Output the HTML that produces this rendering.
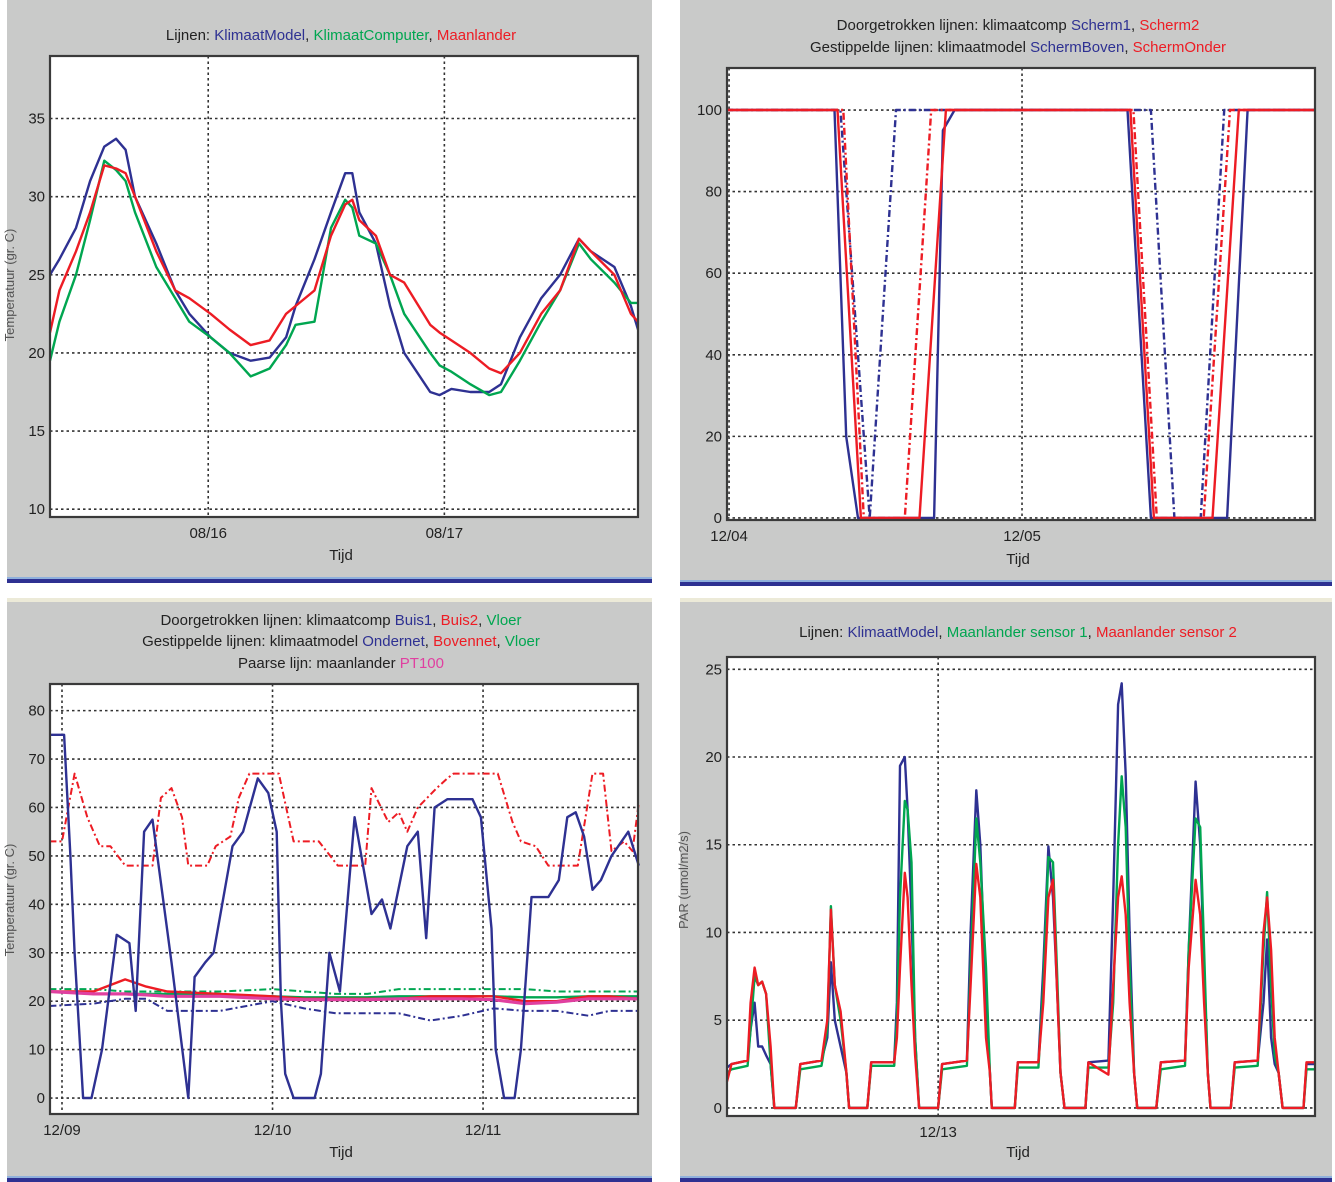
<!DOCTYPE html>
<html><head><meta charset="utf-8"><style>
html,body{margin:0;padding:0;background:#fff;}
svg{display:block;font-family:"Liberation Sans",sans-serif;}
</style></head><body>
<svg id="root" width="1335" height="1182" viewBox="0 0 1335 1182" xmlns="http://www.w3.org/2000/svg">
<rect x="0" y="0" width="1335" height="1182" fill="#fff"/>
<g>
<rect x="7" y="0" width="645" height="578" fill="#c9cac9"/><rect x="7" y="577" width="645" height="2" fill="#8fb0dc"/><rect x="7" y="579" width="645" height="4" fill="#2e3192"/></g>
<g>
<rect x="680" y="0" width="652" height="581" fill="#c9cac9"/><rect x="680" y="580" width="652" height="2" fill="#8fb0dc"/><rect x="680" y="582" width="652" height="4" fill="#2e3192"/></g>
<g>
<rect x="7" y="598" width="645" height="4" fill="#ecead8"/><rect x="7" y="602" width="645" height="580" fill="#c9cac9"/><rect x="7" y="1176" width="645" height="2" fill="#8fb0dc"/><rect x="7" y="1178" width="645" height="4" fill="#2e3192"/></g>
<g>
<rect x="680" y="598" width="652" height="4" fill="#ecead8"/><rect x="680" y="602" width="652" height="580" fill="#c9cac9"/><rect x="680" y="1176" width="652" height="2" fill="#8fb0dc"/><rect x="680" y="1178" width="652" height="4" fill="#2e3192"/></g>

<g font-size="15" text-anchor="middle" fill="#222">
<text x="341" y="40">Lijnen:  <tspan fill="#2e3192">KlimaatModel</tspan>,  <tspan fill="#00a650">KlimaatComputer</tspan>,  <tspan fill="#ed1c24">Maanlander</tspan></text>
<text x="341" y="560">Tijd</text>
<text x="1018" y="30">Doorgetrokken lijnen: klimaatcomp  <tspan fill="#2e3192">Scherm1</tspan>,  <tspan fill="#ed1c24">Scherm2</tspan></text>
<text x="1018" y="52">Gestippelde lijnen: klimaatmodel  <tspan fill="#2e3192">SchermBoven</tspan>,  <tspan fill="#ed1c24">SchermOnder</tspan></text>
<text x="1018" y="564">Tijd</text>
<text x="341" y="625">Doorgetrokken lijnen: klimaatcomp  <tspan fill="#2e3192">Buis1</tspan>,  <tspan fill="#ed1c24">Buis2</tspan>,  <tspan fill="#00a650">Vloer</tspan></text>
<text x="341" y="646">Gestippelde lijnen: klimaatmodel  <tspan fill="#2e3192">Ondernet</tspan>,  <tspan fill="#ed1c24">Bovennet</tspan>,  <tspan fill="#00a650">Vloer</tspan></text>
<text x="341" y="668">Paarse lijn: maanlander  <tspan fill="#e040a0">PT100</tspan></text>
<text x="341" y="1157">Tijd</text>
<text x="1018" y="637">Lijnen:  <tspan fill="#2e3192">KlimaatModel</tspan>,  <tspan fill="#00a650">Maanlander sensor 1</tspan>,  <tspan fill="#ed1c24">Maanlander sensor 2</tspan></text>
<text x="1018" y="1157">Tijd</text>
<text transform="translate(14,285) rotate(-90)" font-size="13" fill="#555">Temperatuur (gr. C)</text>
<text transform="translate(14,900) rotate(-90)" font-size="13" fill="#555">Temperatuur (gr. C)</text>
<text transform="translate(688,880) rotate(-90)" font-size="13" fill="#555">PAR (umol/m2/s)</text>
</g>
</svg>
<script>
// ---- Panel 1: temperature (x = days since 08/16) ----
const p1Days=[-0.67,-0.63,-0.56,-0.50,-0.44,-0.39,-0.35,-0.31,-0.22,-0.14,-0.08,0.01,0.09,0.18,0.26,0.33,0.37,0.45,0.52,0.58,0.61,0.64,0.71,0.77,0.83,0.94,0.98,1.03,1.11,1.19,1.24,1.32,1.41,1.49,1.57,1.62,1.72,1.79,1.82];
const p1Model=[25,26,28,31,33.2,33.7,33,30,27,24,22.5,21,20,19.5,19.7,21,23,26,29,31.5,31.5,29,27,23,20,17.5,17.3,17.7,17.5,17.5,18,21,23.5,25,27.3,26.5,25.5,23,21.5];
const p1Computer=[19.5,22,25,28.5,32.3,31.7,31,29,25.5,23.5,22,21,20,18.5,19,20.5,21.8,22,28,29.8,29.3,27.5,27,25,22.5,20,19.2,18.8,18,17.3,17.5,19.5,22,24,27,26,24.5,23.2,23.2];
const p1Maanlander=[21.3,24,26.5,29,32,31.8,31.5,30,26.5,24,23.5,22.5,21.5,20.5,20.8,22.5,23,24,27.5,29.5,29.8,28.5,27.5,25,24.5,21.8,21.3,20.8,20,19,18.7,20,22.5,24,27.3,26.5,25,22.5,22];
const p1YTicks=[10,15,20,25,30,35];
const p1XTicks=[0,1];
const p1XLabels=["08/16","08/17"];
// ---- Panel 2: screens (x = days since 12/04) ----
const p2Scherm1Days=[-0.01,0.36,0.40,0.44,0.70,0.73,0.77,1.36,1.44,1.70,1.77,2.0];
const p2Scherm1=[100,100,20,0,0,95,100,100,0,0,100,100];
const p2Scherm2Days=[-0.01,0.37,0.45,0.65,0.74,1.37,1.45,1.65,1.74,2.0];
const p2Scherm2=[100,100,0,0,100,100,0,0,100,100];
const p2BovenDays=[-0.01,0.38,0.48,0.57,1.44,1.52,1.61,1.69,2.0];
const p2Boven=[100,100,0,100,100,0,0,100,100];
const p2OnderDays=[-0.01,0.39,0.46,0.60,0.69,1.38,1.46,1.62,1.71,2.0];
const p2Onder=[100,100,0,0,100,100,0,0,100,100];
const p2YTicks=[0,20,40,60,80,100];
const p2XTicks=[0,1];
const p2XLabels=["12/04","12/05"];
// ---- Panel 3: pipes (x = days since 12/09) ----
const p3Buis1Days=[-0.06,0.01,0.04,0.06,0.10,0.14,0.19,0.26,0.32,0.35,0.39,0.43,0.52,0.60,0.63,0.68,0.72,0.81,0.86,0.93,0.98,1.02,1.04,1.06,1.10,1.20,1.23,1.27,1.32,1.39,1.47,1.52,1.56,1.64,1.69,1.73,1.77,1.83,1.95,1.99,2.04,2.06,2.10,2.15,2.18,2.23,2.31,2.36,2.40,2.44,2.48,2.52,2.56,2.61,2.69,2.74];
const p3Buis1=[75,75,50,30,0,0,10,33.7,32,18,55,57.5,28,0,25,28,30,52,55,66,63,55,20,5,0,0,5,30,22,58,38,41,35,52,55,33,60,61.7,61.7,58,35,10,0,0,10,41.5,41.5,45,58,59,54,43,45,50,55,48];
const p3BovenDays=[-0.06,0.0,0.06,0.12,0.18,0.23,0.30,0.43,0.47,0.52,0.57,0.60,0.69,0.73,0.80,0.84,0.89,1.03,1.10,1.22,1.31,1.44,1.47,1.55,1.60,1.64,1.69,1.78,1.83,1.86,2.07,2.14,2.18,2.25,2.31,2.45,2.52,2.57,2.61,2.67,2.71,2.74];
const p3Bovennet=[53,53,67,58,52,52,48,48,62,64,58,48,48,52,54,62,67,67,53,53,48,48,64,57,59,55,60,64,66,67,67,57,53,52,48,48,67,67,51,53,51,61];
const p3SlowDays=[-0.06,0.15,0.30,0.40,0.50,0.75,1.00,1.15,1.30,1.45,1.60,1.75,1.90,2.05,2.20,2.35,2.50,2.60,2.74];
const p3Ondernet=[19,19.5,20.5,20.5,18,18,20,18.5,17.5,17.5,17.5,16,17,18.5,18,18,17,18,18];
const p3VloerModel=[22.5,22.5,22,22,22,22,22.5,22,21.5,21.5,22.5,22.5,22.5,22.5,22.5,22,22,22,22];
const p3Buis2=[22,22,24.5,23,22,21.5,21,20.5,20.5,20.5,20.5,21,21,21,20,20,21,21,20.5];
const p3VloerComp=[22,21.5,21.5,21.5,21.5,21.3,21,20.8,20.8,20.8,21,21,21,21,20.8,20.8,21,21,21];
const p3PT100=[22,21.5,21.5,21.3,21,21,20.5,20.3,20.3,20.3,20.5,20.5,20.5,20.3,19.5,19.8,20.5,20.5,20.5];
const p3YTicks=[0,10,20,30,40,50,60,70,80];
const p3XTicks=[0,1,2];
const p3XLabels=["12/09","12/10","12/11"];
// ---- Panel 4: PAR (x = hours since 12/13 00:00) ----
const p4Hours=[-69.7,-68.2,-62.9,-61.9,-60.6,-59.4,-58.1,-56.8,-55.3,-54.1,-47.0,-45.5,-38.5,-36.6,-35.4,-34.1,-32.2,-30.3,-29.4,-23.4,-22.1,-14.5,-13.6,-12.6,-11.0,-10.1,-8.8,-7.6,-6.3,0,1.3,9.5,10.7,12.6,13.9,15.8,17.1,17.7,25.3,26.3,33.1,34.7,36.4,37.9,39.2,40.4,41.7,48.6,49.6,56.2,57.8,59.4,60.6,61.9,63.2,64.7,65.7,72.0,73.5,81.5,82.7,85.0,86.5,87.8,89.0,89.9,96.6,97.9,105.5,107.4,108.6,109.9,111.1,112.4,113.7,120.6,121.6,124.4];
const p4Model=[2.3,2.5,2.7,4.5,6.0,3.5,3.5,3.0,2.5,0,0,2.5,2.7,4,8.3,5,3.5,2,0,0,2.6,2.6,6,19.5,20.0,17,11,4,0,0,2.5,2.7,10,18.1,15,6,2,0,0,2.6,2.6,8,14.9,12,7,2,0,0,2.6,2.7,12,23,24.2,19,10,2,0,0,2.6,2.7,9,18.6,15,8,2,0,0,2.6,2.7,6,9.6,4,2.5,2,0,0,2.5,2.5];
const p4Sensor1=[2.0,2.2,2.4,4.5,7.5,7.0,7.2,6.5,2.5,0,0,2.2,2.4,4.5,11.5,7,5,2,0,0,2.4,2.4,5,12,17.5,17,14,4,0,0,2.2,2.4,8,16.5,14,8,2,0,0,2.3,2.3,7,14.3,14,8,2,0,0,2.3,2.3,6,15,18.9,16,8,2,0,0,2.2,2.4,9,16.5,16,9,2,0,0,2.3,2.4,9,12.3,7,3,2,0,0,2.2,2.2];
const p4Sensor2=[1.5,2.5,2.7,6,8.0,7.0,7.2,6.5,3.5,0,0,2.5,2.7,5,11.3,7,5.5,2,0,0,2.6,2.6,4,8,13.4,12,7,3,0,0,2.5,2.7,7,13.9,12,4,2,0,0,2.6,2.6,6,12,13,7,2,0,0,2.6,1.9,7,12,13.2,11,6,2,0,0,2.6,2.7,8,13,11,6,2,0,0,2.6,2.7,10,12,9,4,2,0,0,2.6,2.6];
const p4YTicks=[0,5,10,15,20,25];
const p4XTicks=[0];
const p4XLabels=["12/13"];

const NS="http://www.w3.org/2000/svg";
const root=document.getElementById('root');
function mk(tag,attrs,parent){const e=document.createElementNS(NS,tag);for(const k in attrs)e.setAttribute(k,attrs[k]);(parent||root).appendChild(e);return e;}
function scale(d0,d1,r0,r1){return v=>r0+(v-d0)/(d1-d0)*(r1-r0);}

function axes(id,box,xd,yd,yTicks,xTicks,xLabels){
  const xs=scale(xd[0],xd[1],box.x0,box.x1), ys=scale(yd[0],yd[1],box.y1,box.y0);
  const g=mk('g',{});
  
  
  const bg=mk('rect',{x:box.x0,y:box.y0,width:box.x1-box.x0,height:box.y1-box.y0,fill:'#fff'},g);
  
  
  yTicks.forEach(t=>{
    const y=ys(t);
    const l=mk('line',{x1:box.x0,x2:box.x1,y1:y,y2:y,stroke:'#333','stroke-width':1.6,'stroke-dasharray':'2.5,3'},g);
    
    
    const tx=mk('text',{x:box.x0-5,y:y+5,'font-size':15,'text-anchor':'end',fill:'#222'},g);
    tx.textContent=t;
    
    
  });
  xTicks.forEach((t,i)=>{
    const x=xs(t);
    const l=mk('line',{x1:x,x2:x,y1:box.y0,y2:box.y1,stroke:'#333','stroke-width':1.6,'stroke-dasharray':'2.5,3'},g);
    
    
    const tx=mk('text',{x:x,y:box.y1+21,'font-size':15,'text-anchor':'middle',fill:'#222'},g);
    tx.textContent=xLabels[i];
    
    
  });
  return {xs,ys,box,g};
}
function series(ax,id,xsArr,ysArr,color,dash,w){
  const pts=xsArr.map((v,i)=>ax.xs(v).toFixed(1)+','+ax.ys(ysArr[i]).toFixed(1)).join(' ');
  const a={points:pts,fill:'none',stroke:color,'stroke-width':w||2.4,'stroke-linejoin':'round'};
  if(dash)a['stroke-dasharray']=dash;
  const p=mk('polyline',a,ax.g);
  
  
}
function frame(ax,id){
  const b=ax.box;
  const r=mk('rect',{x:b.x0,y:b.y0,width:b.x1-b.x0,height:b.y1-b.y0,fill:'none',stroke:'#3a3a3a','stroke-width':2.2},ax.g);
  
  
}
const BL='#2e3192',GR='#00a650',RD='#ed1c24',MG='#e040a0',DD='7,3,2,3';

const a1=axes('temperature',{x0:50,x1:638,y0:56,y1:517},[-0.67,1.82],[9.5,39],p1YTicks,p1XTicks,p1XLabels);
series(a1,'klimaatmodel-line',p1Days,p1Model,BL);
series(a1,'klimaatcomputer-line',p1Days,p1Computer,GR);
series(a1,'maanlander-line',p1Days,p1Maanlander,RD);
frame(a1,'temperature');

const a2=axes('screens',{x0:727,x1:1315,y0:68,y1:520},[-0.007,2.0],[-0.5,110.3],p2YTicks,p2XTicks,p2XLabels);
series(a2,'schermboven-line',p2BovenDays,p2Boven,BL,DD);
series(a2,'schermonder-line',p2OnderDays,p2Onder,RD,DD);
series(a2,'scherm1-line',p2Scherm1Days,p2Scherm1,BL);
series(a2,'scherm2-line',p2Scherm2Days,p2Scherm2,RD);
frame(a2,'screens');

const a3=axes('pipes',{x0:50,x1:638,y0:684,y1:1114},[-0.057,2.736],[-3.3,85.5],p3YTicks,p3XTicks,p3XLabels);
series(a3,'bovennet-line',p3BovenDays,p3Bovennet,RD,DD,2);
series(a3,'ondernet-line',p3SlowDays,p3Ondernet,BL,DD,2);
series(a3,'vloer-model-line',p3SlowDays,p3VloerModel,GR,DD,2);
series(a3,'vloer-comp-line',p3SlowDays,p3VloerComp,GR);
series(a3,'buis2-line',p3SlowDays,p3Buis2,RD);
series(a3,'pt100-line',p3SlowDays,p3PT100,MG,null,3.2);
series(a3,'buis1-line',p3Buis1Days,p3Buis1,BL);
frame(a3,'pipes');

const a4=axes('par',{x0:727,x1:1315,y0:657,y1:1116},[-69.7,124.4],[-0.46,25.7],p4YTicks,p4XTicks,p4XLabels);
series(a4,'klimaatmodel-par-line',p4Hours,p4Model,BL);
series(a4,'sensor1-line',p4Hours,p4Sensor1,GR);
series(a4,'sensor2-line',p4Hours,p4Sensor2,RD);
frame(a4,'par');
</script>
</body></html>
